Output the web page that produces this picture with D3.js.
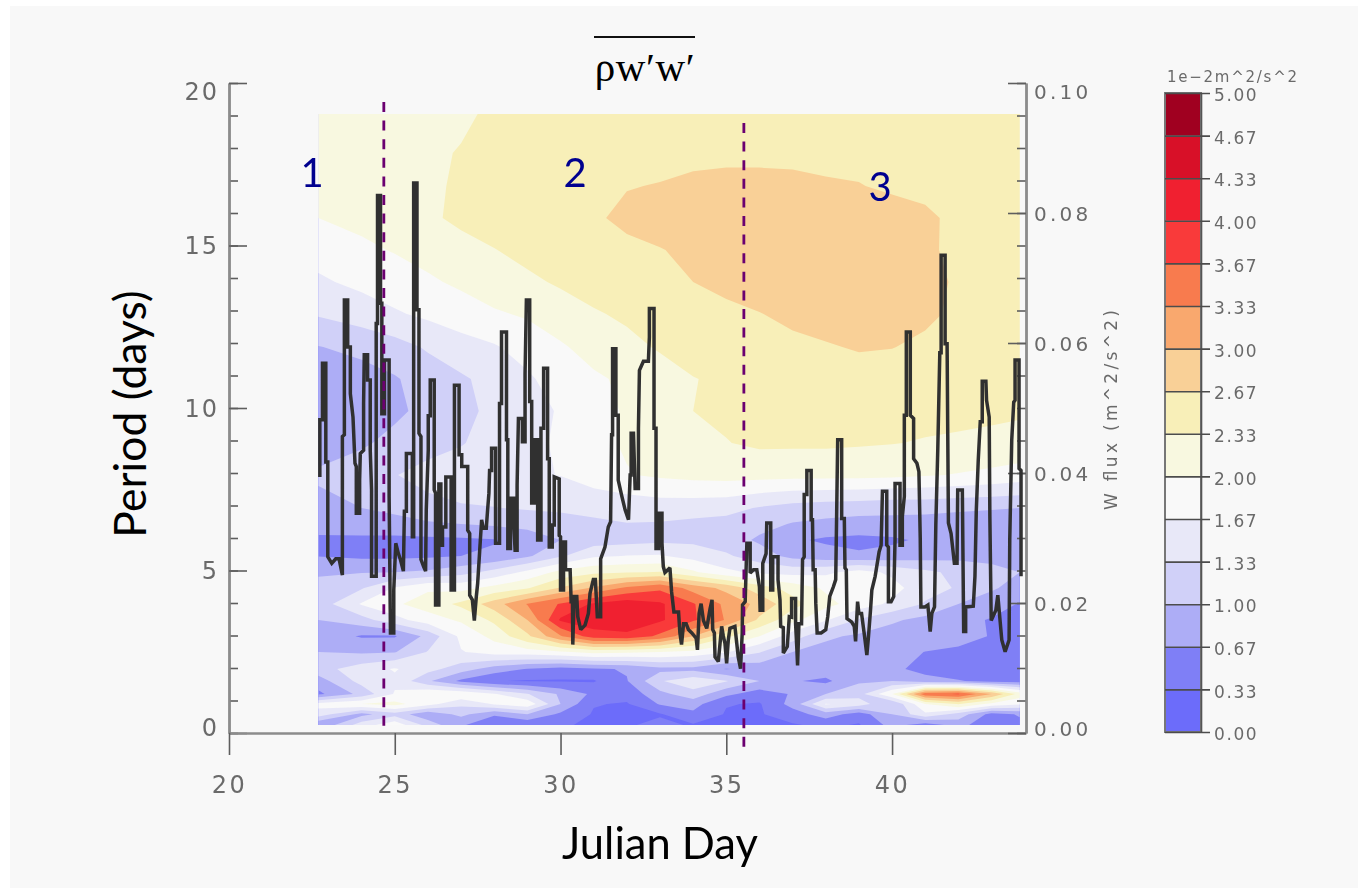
<!DOCTYPE html>
<html><head><meta charset="utf-8">
<script src="https://cdn.jsdelivr.net/npm/d3@7"></script>
<style>
html,body{margin:0;padding:0;background:#fff}
svg{display:block}
.soft{filter:blur(.45px)}
.hershey text{font-family:"DejaVu Sans";fill:#6a6a6a}
</style></head><body>
<svg id="c" width="1358" height="890"></svg>
<script>
// ---------- data ----------
const fieldDays = [22.7,24,25,26,27,28,29,30,31,32,33,34,35,36,37,38,39,40,41,42,43,43.85];
const fieldPeriods = [19.05,17.85,16.83,15.85,14.86,13.88,12.89,11.88,10.89,9.91,8.92,7.94,6.92,6.43,5.94,5.45,4.95,4.46,3.97,3.48,2.98,2.49,1.97,1.6,1.2,.89,.58,.25];
const fieldValues = [
[2.1,2.15,2.2,2.25,2.3,2.36,2.4,2.45,2.5,2.5,2.5,2.5,2.5,2.5,2.5,2.5,2.5,2.5,2.5,2.5,2.5,2.5],
[2.1,2.15,2.2,2.3,2.34,2.42,2.48,2.5,2.55,2.58,2.6,2.62,2.63,2.63,2.63,2.62,2.6,2.58,2.55,2.5,2.45,2.4],
[2.1,2.15,2.2,2.28,2.37,2.47,2.52,2.57,2.62,2.66,2.68,2.71,2.72,2.72,2.71,2.69,2.68,2.63,2.57,2.5,2.45,2.4],
[2.0,2.08,2.15,2.29,2.38,2.47,2.55,2.6,2.64,2.72,2.78,2.8,2.82,2.84,2.85,2.84,2.8,2.78,2.74,2.58,2.5,2.42],
[1.8,1.94,2.02,2.12,2.25,2.32,2.42,2.5,2.56,2.62,2.66,2.72,2.8,2.85,2.88,2.87,2.84,2.8,2.72,2.6,2.5,2.42],
[1.62,1.75,1.85,1.95,2.06,2.18,2.27,2.37,2.45,2.52,2.6,2.67,2.75,2.82,2.88,2.9,2.88,2.82,2.74,2.64,2.5,2.42],
[1.36,1.5,1.63,1.74,1.84,1.96,2.04,2.18,2.3,2.38,2.46,2.54,2.6,2.66,2.74,2.82,2.88,2.84,2.74,2.6,2.5,2.42],
[.99,1.08,1.2,1.37,1.54,1.64,1.8,1.96,2.12,2.25,2.36,2.45,2.5,2.54,2.6,2.64,2.7,2.68,2.6,2.5,2.45,2.4],
[.85,.88,.97,1.15,1.28,1.45,1.62,1.82,1.95,2.06,2.2,2.32,2.38,2.42,2.45,2.48,2.52,2.5,2.47,2.44,2.41,2.38],
[.85,.85,.93,1.1,1.25,1.4,1.55,1.7,1.9,2.03,2.18,2.33,2.38,2.4,2.42,2.44,2.45,2.44,2.42,2.4,2.38,2.36],
[.85,.95,1.1,1.23,1.31,1.45,1.58,1.72,1.9,2.04,2.18,2.28,2.32,2.38,2.38,2.38,2.36,2.34,2.31,2.29,2.27,2.25],
[1.05,1.2,1.32,1.42,1.5,1.58,1.62,1.68,1.85,1.98,2.05,2.1,2.12,2.12,2.1,2.1,2.1,2.08,2.03,1.98,1.92,1.85],
[.9,1.0,1.1,1.25,1.3,1.32,1.36,1.38,1.4,1.45,1.5,1.48,1.45,1.3,1.2,1.15,1.12,1.08,1.08,1.05,1.02,1.0],
[.78,.8,.85,.95,1.0,1.05,1.1,1.2,1.28,1.32,1.3,1.25,1.2,1.1,.98,.92,.88,.9,.88,.85,.85,.85],
[.62,.62,.6,.6,.62,.65,.82,1.0,1.15,1.2,1.25,1.25,1.15,.95,.72,.62,.58,.62,.72,.75,.75,.78],
[.66,.6,.6,.62,.67,.72,.95,1.28,1.62,1.68,1.7,1.55,1.38,1.15,.9,.8,.72,.78,.85,.9,.9,.88],
[.98,.98,1.0,1.05,1.2,1.45,1.75,2.1,2.25,2.3,2.35,2.05,1.75,1.6,1.55,1.6,1.8,1.6,1.4,1.25,1.1,1.0],
[1.05,1.3,1.7,1.95,1.9,2.1,2.3,2.7,3.05,3.4,3.6,3.2,2.9,2.5,2.2,1.95,2.0,1.8,1.45,1.3,1.05,.85],
[1.15,1.7,1.95,2.15,2.4,2.85,3.35,3.7,4.05,4.2,4.05,3.7,3.25,2.9,2.45,2.1,1.85,1.6,1.3,1.0,.8,.65],
[1.0,1.2,1.55,1.85,2.05,2.4,3.0,4.05,4.2,4.3,4.05,3.72,3.3,2.6,2.1,1.7,1.3,1.05,.9,.75,.65,.6],
[.85,.64,.64,1.1,1.75,2.1,2.6,3.3,3.85,3.9,3.6,3.0,2.4,2.0,1.5,1.05,.95,.85,.95,.8,.65,.58],
[1.0,.95,.98,1.35,1.65,1.8,1.85,1.95,2.1,2.05,2.0,1.9,1.7,1.35,1.0,.9,.82,.85,.66,.6,.58,.55],
[1.2,1.5,1.7,1.45,1.15,.85,.65,.55,.62,.7,.9,.9,.65,.8,.75,.85,.85,.75,.55,.4,.4,.45],
[.85,1.45,1.6,1.05,.6,.35,.3,.3,.3,.65,1.3,1.55,1.35,1.0,.7,.6,.95,1.0,.8,.7,.55,.5],
[.6,1.1,1.7,2.0,1.95,1.7,1.35,.95,.6,.45,.9,1.2,.75,.5,.7,1.0,1.2,2.0,3.55,3.7,3.0,2.2],
[1.8,2.0,2.1,1.8,1.4,1.7,1.9,1.0,.35,.3,.7,.8,.35,.3,.8,1.7,1.5,1.0,2.0,2.35,1.9,1.7],
[1.5,.9,1.2,.75,1.1,.7,1.0,.6,.3,.3,.3,.6,.3,.3,.5,.85,.5,1.0,1.6,1.2,.55,.7],
[.7,1.5,1.9,1.2,.7,.5,.4,.35,.3,.3,.4,.3,.25,.25,.3,.4,.3,.8,.5,.8,.4,.6]
];
const levelLabels = ["0.00","0.33","0.67","1.00","1.33","1.67","2.00","2.33","2.67","3.00","3.33","3.67","4.00","4.33","4.67","5.00"];
const bandColors = ["#6c6cfa","#7f7ff6","#adadf6","#d0d0f8","#e8e8f8","#f9f9f9","#f8f8e0","#f8efb8","#f9d097","#f9a86e","#f87b4e","#f93a3a","#f02030","#d81028","#a00020"];
const fluxSeries = [
[22.74,.0394],[22.74,.0482],[22.82,.0482],[22.82,.0569],[22.92,.0569],[22.92,.0417],[22.98,.0417],[22.98,.0271],[23.10,.0261],[23.22,.0268],[23.32,.0268],[23.42,.0243],[23.42,.0456],[23.48,.0459],[23.48,.0666],[23.58,.0666],[23.58,.0594],[23.66,.0594],[23.66,.0522],[23.74,.0486],[23.80,.0415],[23.84,.0410],[23.84,.0338],[23.94,.0338],[23.94,.0389],[23.96,.0430],[24.06,.0435],[24.06,.0507],[24.08,.0582],[24.18,.0582],[24.18,.0543],[24.26,.0543],[24.26,.0435],[24.30,.0374],[24.30,.0241],[24.44,.0241],[24.44,.0630],[24.48,.0630],[24.48,.0827],[24.57,.0827],[24.57,.0661],[24.61,.0661],[24.61,.0491],[24.69,.0491],[24.69,.0574],[24.83,.0574],[24.83,.0364],[24.87,.0154],[24.97,.0154],[24.97,.0220],[25.03,.0292],[25.11,.0276],[25.17,.0267],[25.26,.0249],[25.29,.0341],[25.35,.0341],[25.35,.0430],[25.53,.0430],[25.53,.0302],[25.57,.0302],[25.57,.0846],[25.67,.0846],[25.67,.0651],[25.73,.0651],[25.73,.0461],[25.79,.0456],[25.79,.0267],[25.87,.0256],[25.93,.0249],[25.95,.0343],[26.01,.0435],[26.01,.0488],[26.07,.0488],[26.07,.0543],[26.19,.0543],[26.19,.0374],[26.23,.0369],[26.23,.0197],[26.33,.0197],[26.33,.0383],[26.39,.0383],[26.39,.0289],[26.44,.0289],[26.44,.0317],[26.54,.0317],[26.54,.0394],[26.70,.0394],[26.70,.0220],[26.80,.0220],[26.80,.0535],[26.94,.0535],[26.94,.0428],[27.02,.0428],[27.02,.0410],[27.20,.0410],[27.20,.0312],[27.26,.0307],[27.26,.0212],[27.34,.0205],[27.40,.0173],[27.46,.0210],[27.50,.0230],[27.56,.0279],[27.62,.0328],[27.67,.0315],[27.76,.0315],[27.80,.0343],[27.84,.0369],[27.86,.0404],[27.92,.0404],[27.92,.0438],[28.04,.0438],[28.04,.0292],[28.16,.0292],[28.16,.0507],[28.22,.0507],[28.22,.0617],[28.37,.0617],[28.37,.0451],[28.41,.0451],[28.41,.0284],[28.49,.0284],[28.49,.0361],[28.59,.0361],[28.59,.0320],[28.63,.0281],[28.69,.0281],[28.69,.0381],[28.73,.0484],[28.85,.0484],[28.85,.0448],[28.93,.0448],[28.93,.0553],[28.97,.0666],[29.07,.0666],[29.07,.0510],[29.13,.0510],[29.13,.0354],[29.23,.0354],[29.23,.0451],[29.31,.0451],[29.31,.0297],[29.41,.0297],[29.41,.0469],[29.49,.0469],[29.49,.0561],[29.61,.0561],[29.61,.0422],[29.66,.0422],[29.66,.0286],[29.75,.0286],[29.75,.0320],[29.81,.0320],[29.81,.0394],
[29.96,.0391],[29.96,.0304],[30.00,.0302],[30.00,.0220],[30.09,.0220],[30.09,.0294],[30.15,.0294],[30.15,.0251],[30.29,.0251],[30.32,.0202],[30.36,.0202],[30.37,.0136],[30.41,.0210],[30.49,.0210],[30.52,.0179],[30.61,.0159],[30.74,.0166],[30.84,.0184],[30.89,.0215],[30.99,.0236],[31.05,.0236],[31.11,.0179],[31.21,.0179],[31.21,.0268],[31.34,.0286],[31.44,.0317],[31.51,.0325],[31.54,.0459],[31.57,.0459],[31.57,.0591],[31.67,.0591],[31.67,.0489],[31.74,.0489],[31.74,.0389],[31.85,.0364],[31.95,.0343],[32.05,.0328],[32.10,.0397],[32.13,.0397],[32.13,.0461],[32.20,.0461],[32.25,.0376],[32.35,.0376],[32.35,.0469],[32.38,.0558],[32.50,.0572],[32.65,.0572],[32.68,.0609],[32.68,.0653],[32.82,.0653],[32.82,.0469],[32.88,.0469],[32.88,.0284],[32.96,.0284],[32.96,.0338],[33.06,.0338],[33.06,.0292],[33.10,.0256],[33.15,.0247],[33.30,.0254],[33.35,.0217],[33.42,.0186],[33.56,.0186],[33.60,.0154],[33.65,.0136],[33.71,.0168],[33.79,.0168],[33.86,.0159],[33.96,.0154],[34.09,.0146],[34.13,.0128],[34.18,.0184],[34.24,.0199],[34.31,.0173],[34.41,.0161],[34.51,.0191],[34.57,.0205],[34.59,.0159],[34.64,.0154],[34.66,.0117],[34.76,.0110],[34.86,.0164],[34.91,.0149],[34.96,.0138],[35.01,.0107],[35.06,.0143],[35.11,.0161],[35.26,.0164],[35.36,.0117],[35.43,.0099],[35.48,.0154],[35.49,.0197],[35.57,.0202],[35.62,.0292],[35.72,.0292],[35.72,.0246],[35.82,.0251],[35.92,.0251],[36.00,.0225],[36.02,.0189],[36.10,.0189],[36.10,.0261],[36.20,.0276],[36.22,.0323],[36.34,.0323],[36.34,.0220],[36.40,.0220],[36.40,.0271],[36.56,.0271],[36.56,.0236],[36.62,.0205],[36.64,.0164],[36.72,.0162],[36.72,.0123],[36.84,.0133],[36.90,.0179],
[36.97,.0178],[36.97,.0207],[37.09,.0207],[37.09,.0168],[37.13,.0128],[37.15,.0104],[37.19,.0168],[37.27,.0168],[37.30,.0267],[37.35,.0271],[37.35,.0367],[37.43,.0367],[37.43,.0404],[37.56,.0404],[37.56,.0328],[37.60,.0328],[37.62,.0251],[37.68,.0251],[37.70,.0199],[37.74,.0154],[37.86,.0154],[38.00,.0159],[38.06,.0179],[38.12,.0210],[38.23,.0225],[38.30,.0236],[38.33,.0341],[38.36,.0451],[38.48,.0451],[38.48,.0330],[38.56,.0330],[38.58,.0254],[38.62,.0251],[38.64,.0176],[38.78,.0171],[38.86,.0164],[38.90,.0141],[38.96,.0202],[39.00,.0184],[39.08,.0184],[39.17,.0149],[39.24,.0120],[39.29,.0149],[39.35,.0189],[39.39,.0220],[39.49,.0241],[39.61,.0279],[39.67,.0289],[39.71,.0372],[39.84,.0372],[39.84,.0289],[39.89,.0286],[39.89,.0202],[39.97,.0202],[40.05,.0210],[40.09,.0297],[40.09,.0384],[40.24,.0384],[40.24,.0289],[40.31,.0289],[40.31,.0333],[40.37,.0364],[40.37,.0489],[40.43,.0489],[40.43,.0617],[40.55,.0617],[40.55,.0489],[40.65,.0484],[40.65,.0422],[40.75,.0415],[40.81,.0402],[40.85,.0299],[40.87,.0194],[40.99,.0194],[41.08,.0197],[41.15,.0156],[41.20,.0184],[41.28,.0194],[41.32,.0320],[41.38,.0438],[41.44,.0585],[41.48,.0585],[41.48,.0735],[41.60,.0735],[41.60,.0599],[41.66,.0599],[41.68,.0459],[41.70,.0323],[41.78,.0307],[41.88,.0261],[41.96,.0261],[41.98,.0374],[42.12,.0374],[42.14,.0267],[42.16,.0156],[42.22,.0156],[42.22,.0194],[42.45,.0195],[42.50,.0241],[42.54,.0341],[42.60,.0420],[42.66,.0479],[42.72,.0479],[42.72,.0541],[42.83,.0541],[42.85,.0512],[42.93,.0486],[42.95,.0333],[42.99,.0173],[43.13,.0189],[43.19,.0212],[43.23,.0189],[43.31,.0143],[43.41,.0125],[43.53,.0143],[43.55,.0297],[43.61,.0451],[43.67,.0509],[43.71,.0512],[43.71,.0574],[43.83,.0574],[43.83,.0407],[43.89,.0404],[43.89,.0241]
];
const periodTicks = [0,5,10,15,20];
const periodMinorTicks = d3.range(0,21);
const dayTicks = [20,25,30,35,40];
const fluxTicks = [0,.02,.04,.06,.08,.10];
const fluxMinorTicks = d3.range(0,21).map(i=>i*.005);
const phaseDays = [24.67,35.53];
const phaseNames = ["1","2","3"];

// ---------- scales ----------
const svg = d3.select("#c");
const x = d3.scaleLinear().domain([20,44.04]).range([229,1026]);
const yP = d3.scaleLinear().domain([0,20]).range([733,83]);
const yF = d3.scaleLinear().domain([0,.1]).range([733,83]);
const levels = levelLabels.map(Number);

svg.append("rect").attr("width",1358).attr("height",890).attr("fill","#fff");
svg.append("rect").attr("x",10).attr("y",6).attr("width",1348).attr("height",882).attr("fill","#f8f8f8");

// ---------- filled contours ----------
const nx = fieldDays.length, ny = fieldPeriods.length;
const colDay = d3.scaleLinear().domain(d3.range(nx)).range(fieldDays).clamp(true);
const rowPer = d3.scaleLinear().domain(d3.range(ny)).range(fieldPeriods).clamp(true);
const toScreen = d3.geoTransform({point(a,b){ this.stream.point(x(colDay(a-.5)), yP(rowPer(b-.5))); }});
const path = d3.geoPath(toScreen);
const contours = d3.contours().size([nx,ny]).smooth(true).thresholds(levels.slice(0,-1))(fieldValues.flat());
const field = svg.append("g").attr("class","soft");
field.selectAll("path").data(contours).join("path")
  .attr("d",path)
  .attr("fill",(d,i)=>bandColors[i]);

// ---------- axes ----------
const axisColor="#8c8c8c", tickColor="#5e5e5e";
function styleAxis(g){
  g.select(".domain").attr("stroke",axisColor).attr("stroke-width",2.4);
  g.selectAll(".tick line").attr("stroke",tickColor).attr("stroke-width",1.6);
}
const axes = svg.append("g").attr("class","hershey soft");
axes.append("g").attr("transform","translate(229,0)")
  .call(d3.axisLeft(yP).tickValues(periodMinorTicks).tickSize(-9).tickSizeOuter(0).tickFormat("")).call(styleAxis);
axes.append("g").attr("transform","translate(229,0)")
  .call(d3.axisLeft(yP).tickValues(periodTicks).tickSize(-18).tickSizeOuter(0).tickPadding(10).tickFormat(d3.format("d"))).call(styleAxis)
  .selectAll("text").attr("font-size",24).attr("dy",d=>d===20?".68em":d===0?"0.1em":".35em").attr("letter-spacing","2px");
axes.append("g").attr("transform","translate(0,733)")
  .call(d3.axisBottom(x).tickValues(dayTicks).tickSize(22).tickSizeOuter(0).tickPadding(30).tickFormat(d3.format("d"))).call(styleAxis)
  .selectAll("text").attr("font-size",24).attr("letter-spacing","2.5px").attr("dy",".35em");
axes.append("g").attr("transform","translate(1026,0)")
  .call(d3.axisRight(yF).tickValues(fluxMinorTicks).tickSize(-9).tickSizeOuter(0).tickFormat("")).call(styleAxis);
axes.append("g").attr("transform","translate(1026,0)")
  .call(d3.axisRight(yF).tickValues(fluxTicks).tickSize(-18).tickSizeOuter(0).tickPadding(8).tickFormat(d3.format(".2f"))).call(styleAxis)
  .selectAll("text").attr("font-size",20).attr("letter-spacing","3.2px").attr("dy",d=>d===.1?".75em":d===0?"0.1em":".35em");
axes.append("text").attr("transform","translate(1117,410) rotate(-90)").attr("text-anchor","middle")
  .attr("font-size",17).attr("textLength",200).attr("lengthAdjust","spacing").text("W flux (m^2/s^2)");

// ---------- flux line ----------
const line = d3.line().x(d=>x(d[0])).y(d=>yF(d[1]));
svg.append("path").attr("class","soft").datum(fluxSeries).attr("d",line)
  .attr("fill","none").attr("stroke","#303030").attr("stroke-width",3.5).attr("stroke-linejoin","miter").attr("stroke-miterlimit",2);

// ---------- phase dividers ----------
svg.selectAll(".phase").data(phaseDays).join("line").attr("class","phase")
  .attr("x1",d=>x(d)).attr("x2",d=>x(d))
  .attr("y1",(d,i)=>[102,123][i]).attr("y2",(d,i)=>[731,750][i])
  .attr("stroke","#6b0070").attr("stroke-width",2.8).attr("stroke-dasharray","10 8.6");

// ---------- phase numbers and titles ----------
svg.selectAll(".pn").data(phaseNames).join("text").attr("class","pn")
  .attr("x",(d,i)=>[312,575,880][i]).attr("y",(d,i)=>[187,187,201][i])
  .attr("text-anchor","middle").attr("font-family","Lato").attr("font-size",40).attr("fill","#00008f").text(d=>d);
svg.append("text").attr("x",660).attr("y",859).attr("text-anchor","middle").attr("font-family","Lato")
  .attr("font-size",43.5).attr("fill","#000").text("Julian Day");
svg.append("text").attr("transform","translate(146,414) rotate(-90)").attr("text-anchor","middle").attr("font-family","Lato")
  .attr("font-size",44.5).attr("fill","#000").text("Period (days)");
svg.append("line").attr("x1",594).attr("x2",695).attr("y1",37).attr("y2",37).attr("stroke","#111").attr("stroke-width",2);
svg.append("text").attr("x",645).attr("y",81).attr("text-anchor","middle").attr("font-family","Liberation Serif")
  .attr("font-size",41).attr("letter-spacing",".6px").attr("fill","#000").text("ρw′w′");

// ---------- colour key ----------
const keyY = d3.scalePoint().domain(levelLabels).range([732,93]);
const key = svg.append("g").attr("class","hershey soft");
key.selectAll("rect").data(bandColors).join("rect")
  .attr("x",1165).attr("width",36)
  .attr("y",(d,i)=>keyY(levelLabels[i+1])).attr("height",(d,i)=>keyY(levelLabels[i])-keyY(levelLabels[i+1]))
  .attr("fill",d=>d);
key.append("rect").attr("x",1165).attr("y",keyY("5.00")).attr("width",36).attr("height",keyY("0.00")-keyY("5.00"))
  .attr("fill","none").attr("stroke","#777").attr("stroke-width",2);
key.append("g").attr("transform","translate(1201,0)")
  .call(d3.axisRight(keyY).tickSize(9).tickSizeOuter(0).tickPadding(4)).call(g=>{
    g.select(".domain").attr("stroke","#555").attr("stroke-width",1.6);
    g.selectAll(".tick line").attr("x1",-36).attr("stroke","#4c4c4c").attr("stroke-width",1.6);
    g.selectAll("text").attr("font-size",17).attr("letter-spacing","1.6px").attr("dy",".45em");
  });
key.append("text").attr("x",1232).attr("y",82).attr("text-anchor","middle").attr("font-size",15)
  .attr("textLength",130).attr("lengthAdjust","spacing").text("1e−2m^2/s^2");
</script>
</body></html>
